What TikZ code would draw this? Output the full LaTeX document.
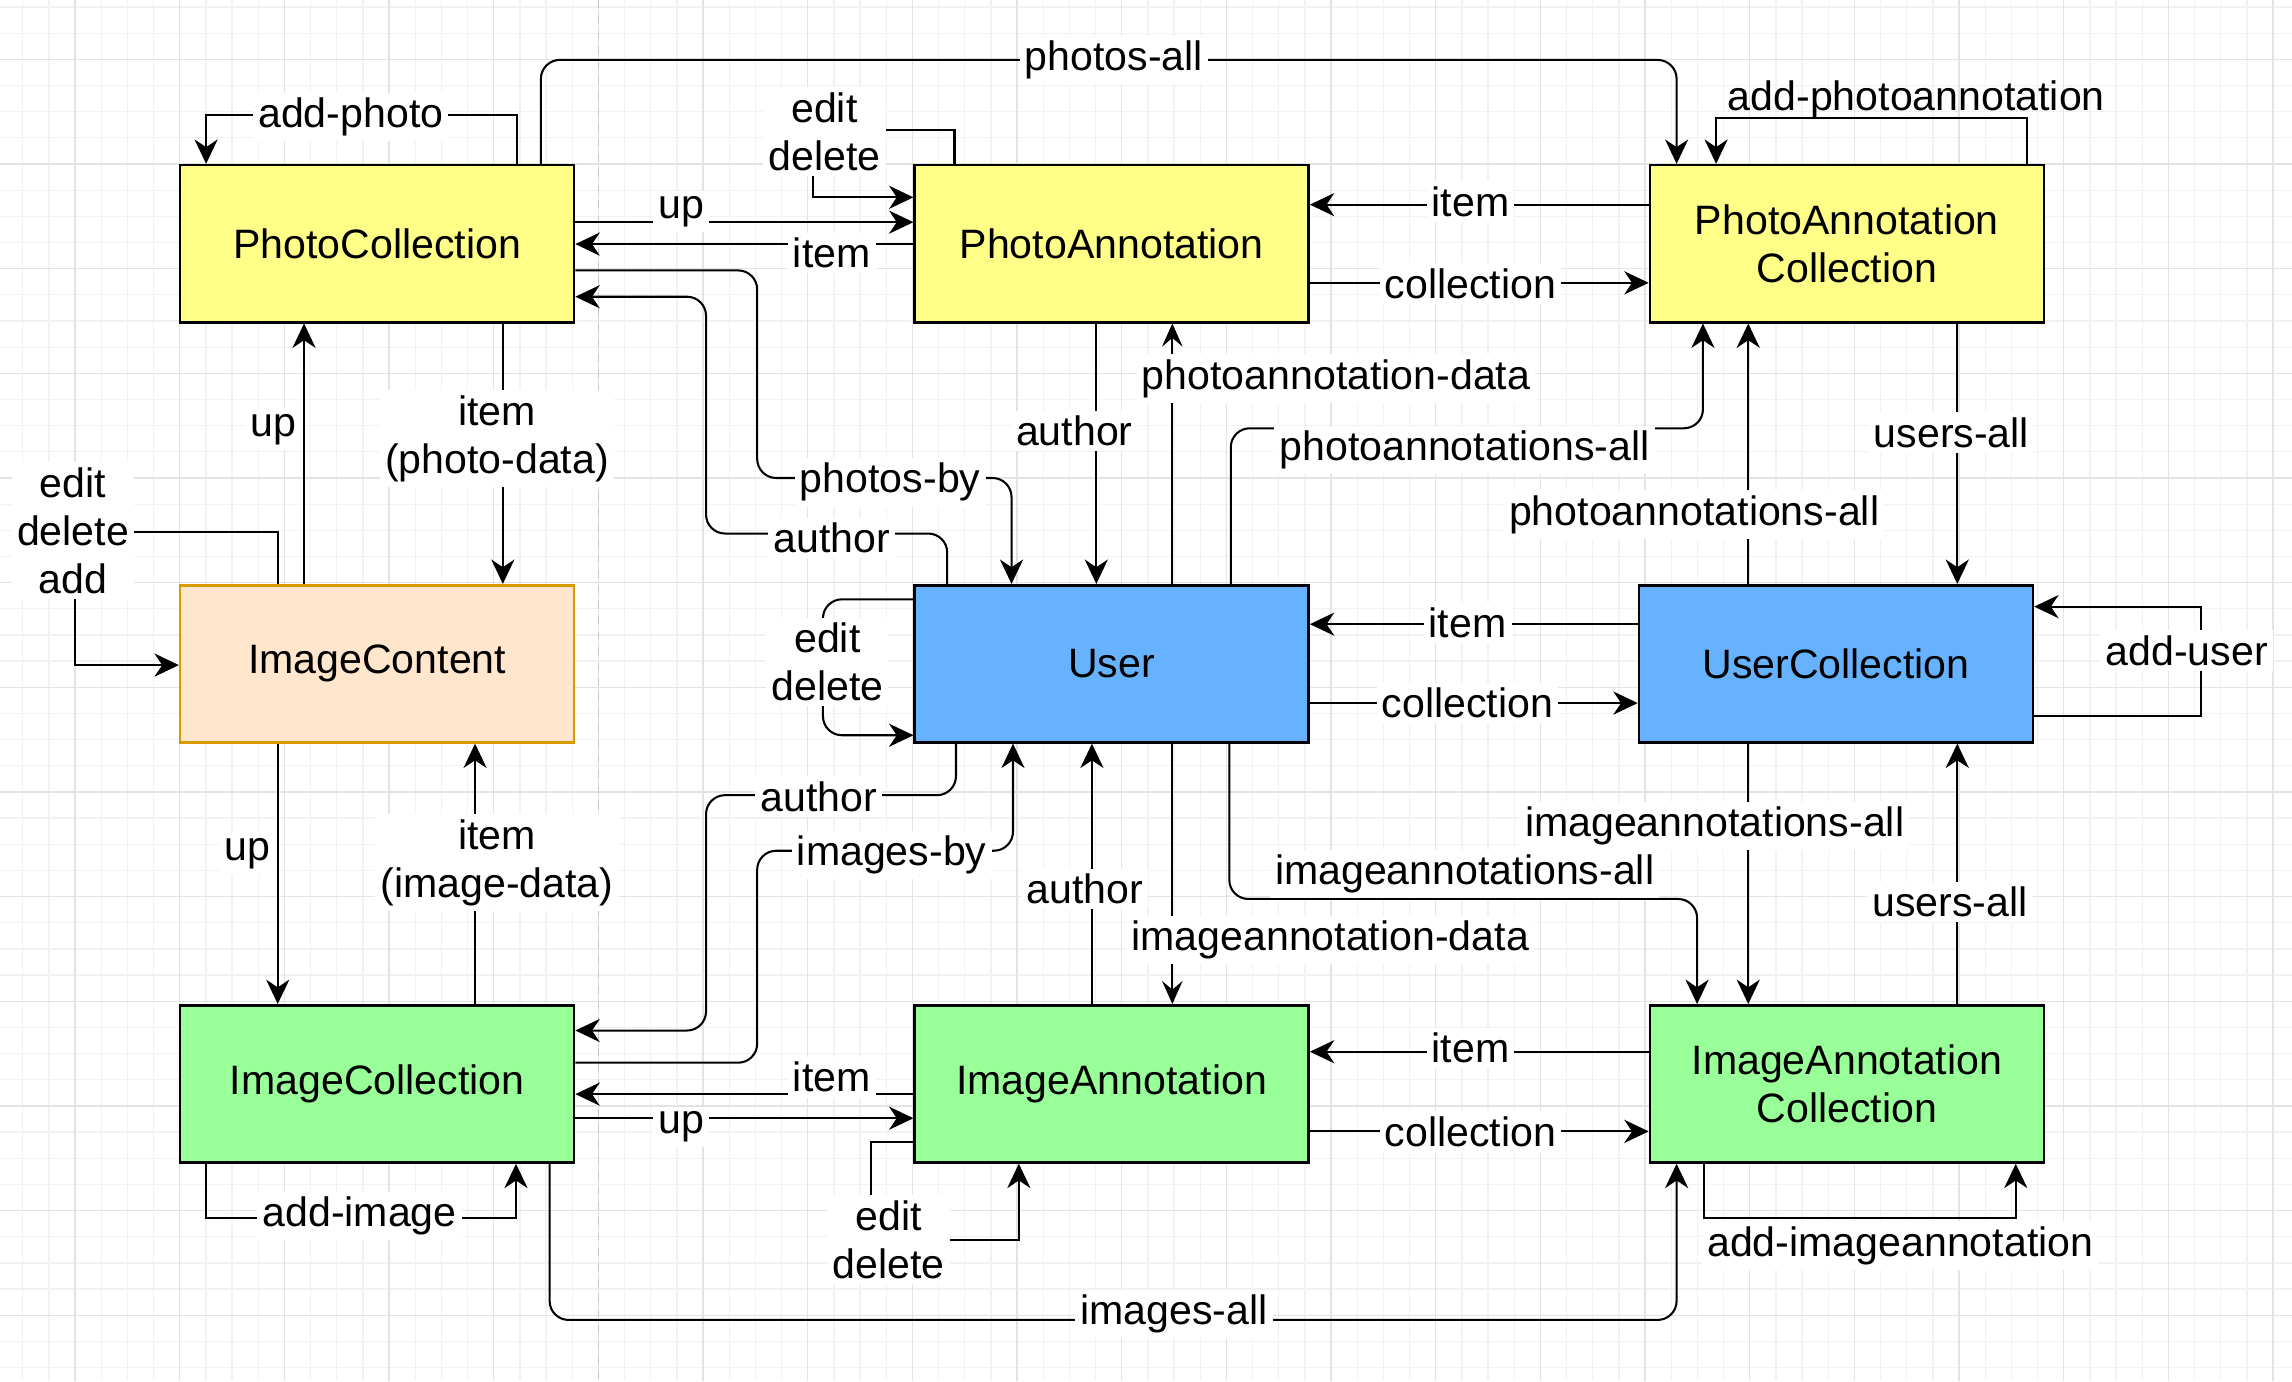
\documentclass[tikz,border=0pt]{standalone}
\usepackage{fontspec}
\setmainfont{Liberation Sans}
\usetikzlibrary{arrows.meta}
\definecolor{yellowbox}{HTML}{FFFF88}
\definecolor{bluebox}{HTML}{66B2FF}
\definecolor{greenbox}{HTML}{99FF99}
\definecolor{orangebox}{HTML}{FFE6CC}
\definecolor{orangeline}{HTML}{D79B00}
\tikzset{box/.style={draw, line width=1pt, minimum width=5.39cm, minimum height=2.15cm, align=center, inner sep=0pt},
%white label sitting on a connector
lbl/.style={fill=white, inner sep=2pt, align=center},
arr/.style={line width=0.8pt, -{Stealth[length=9.5pt,width=9pt,inset=3pt]}},
arrsmall/.style={line width=0.8pt, -{Stealth[length=9pt,width=8pt,inset=3.4pt]}},
rnd/.style={rounded corners=0.26cm},
gridminor/.style={draw=gray!10, line width=0.5pt},
gridmajor/.style={draw=gray!22, line width=0.5pt}}

\begin{document}
\begin{tikzpicture}[x=0.02cm, y=-0.02cm, font=\fontsize{16}{18.7}\selectfont]

\fill[white] (0,0) rectangle (1568,945);
\useasboundingbox (0,0) rectangle (1568,945);
% grid
\foreach \i in {0,...,87} \draw[gridminor] (15.6+17.9*\i,0) -- (15.6+17.9*\i,945);
\foreach \i in {0,...,52} \draw[gridminor] (0,4.8+17.9*\i) -- (1568,4.8+17.9*\i);
\foreach \i in {0,...,21} \draw[gridmajor] (51.4+71.6*\i,0) -- (51.4+71.6*\i,945);
\foreach \i in {0,...,13} \draw[gridmajor] (0,40.6+71.6*\i) -- (1568,40.6+71.6*\i);
\draw[dashed, gray!45, line width=0.5pt] (409.5,0) -- (409.5,945); %page break

% boxes
\node[box, fill=yellowbox] (photoColl) at (258,166.7) {PhotoCollection};
\node[box, fill=yellowbox] (photoAnn) at (760.5,166.7) {PhotoAnnotation};
\node[box, fill=yellowbox] (photoAnnColl) at (1263.5,166.7) {PhotoAnnotation\\Collection};
\node[box, fill=orangebox, draw=orangeline] (imgContent) at (258,454.1) {ImageContent};
\node[box, fill=bluebox] (user) at (760.5,454.1) {User};
\node[box, fill=bluebox] (userColl) at (1256,454.1) {UserCollection};
\node[box, fill=greenbox] (imgColl) at (258,741.5) {ImageCollection};
\node[box, fill=greenbox] (imgAnn) at (760.5,741.5) {ImageAnnotation};
\node[box, fill=greenbox] (imgAnnColl) at (1263.5,741.5) {ImageAnnotation\\Collection};

% Draw top row
\draw[arr] (354,0 |- photoColl.north) -- (354,79) -- (141,79) -- (141,0 |- photoColl.north);
\draw[arr,rnd] (370,0 |- photoColl.north) -- (370,41) -- (1147,41) -- (1147,0 |- photoAnnColl.north);
\draw[arr] (photoColl.east |- 0,152) -- (photoAnn.west |- 0,152);
\draw[arr] (photoAnn.west |- 0,167) -- (photoColl.east |- 0,167);
\draw[arr] (653,0 |- photoAnn.north) -- (653,89) -- (556,89) -- (556,135) -- (photoAnn.west |- 0,135);
\draw[arr] (photoAnnColl.west |- 0,140) -- (photoAnn.east |- 0,140);
\draw[arr] (photoAnn.east |- 0,193.5) -- (photoAnnColl.west |- 0,193.5);
\draw[arr] (1387,0 |- photoAnnColl.north) -- (1387,81) -- (1174,81) -- (1174,0 |- photoAnnColl.north);

% Draw top to middle
\draw[arrsmall] (802,0 |- user.north) -- (802,0 |- photoAnn.south);
\draw[arr] (750,0 |- photoAnn.south) -- (750,0 |- user.north);
\draw[arr,rnd] (842,0 |- user.north) -- (842,293) -- (1165,293) -- (1165,0 |- photoAnnColl.south);
\draw[arr] (1196,0 |- userColl.north) -- (1196,0 |- photoAnnColl.south);
\draw[arr] (1339,0 |- photoAnnColl.south) -- (1339,0 |- userColl.north);
\draw[arr,rnd] (photoColl.east |- 0,185) -- (518,185) -- (518,327) -- (692,327) -- (692,0 |- user.north);
\draw[arr,rnd] (648,0 |- user.north) -- (648,365) -- (483,365) -- (483,203) -- (photoColl.east |- 0,203);
\draw[arr] (208,0 |- imgContent.north) -- (208,0 |- photoColl.south);
\draw[arr] (344,0 |- photoColl.south) -- (344,0 |- imgContent.north);
\draw[arr] (190,0 |- imgContent.north) -- (190,364) -- (51,364) -- (51,455) -- (imgContent.west |- 0,455);

% Draw middle row
\draw[arr] (userColl.west |- 0,427) -- (user.east |- 0,427);
\draw[arr] (user.east |- 0,481) -- (userColl.west |- 0,481);
\draw[arr] (userColl.east |- 0,490) -- (1506,490) -- (1506,415) -- (userColl.east |- 0,415);
\draw[arr,rnd] (user.west |- 0,410) -- (563,410) -- (563,503) -- (user.west |- 0,503);

% Draw middle to bottom
\draw[arr] (190,0 |- imgContent.south) -- (190,0 |- imgColl.north);
\draw[arr] (325,0 |- imgColl.north) -- (325,0 |- imgContent.south);
\draw[arr,rnd] (654,0 |- user.south) -- (654,544) -- (483,544) -- (483,705) -- (imgColl.east |- 0,705);
\draw[arr,rnd] (imgColl.east |- 0,727) -- (518,727) -- (518,582) -- (693,582) -- (693,0 |- user.south);
\draw[arr] (747,0 |- imgAnn.north) -- (747,0 |- user.south);
\draw[arrsmall] (802,0 |- user.south) -- (802,0 |- imgAnn.north);
\draw[arr,rnd] (841,0 |- user.south) -- (841,615) -- (1161,615) -- (1161,0 |- imgAnnColl.north);
\draw[arr] (1196,0 |- userColl.south) -- (1196,0 |- imgAnnColl.north);
\draw[arr] (1339,0 |- imgAnnColl.north) -- (1339,0 |- userColl.south);

% Draw bottom row
\draw[arr] (imgAnn.west |- 0,748.5) -- (imgColl.east |- 0,748.5);
\draw[arr] (imgColl.east |- 0,765) -- (imgAnn.west |- 0,765);
\draw[arr] (141,0 |- imgColl.south) -- (141,833) -- (353,833) -- (353,0 |- imgColl.south);
\draw[arr,rnd] (376,0 |- imgColl.south) -- (376,903) -- (1147,903) -- (1147,0 |- imgAnnColl.south);
\draw[arr] (imgAnn.west |- 0,781) -- (596,781) -- (596,848) -- (697,848) -- (697,0 |- imgAnn.south);
\draw[arr] (imgAnnColl.west |- 0,719.5) -- (imgAnn.east |- 0,719.5);
\draw[arr] (imgAnn.east |- 0,774) -- (imgAnnColl.west |- 0,774);
\draw[arr] (1166,0 |- imgAnnColl.south) -- (1166,833) -- (1379,833) -- (1379,0 |- imgAnnColl.south);

% labels
\node[lbl] (lAddPhoto) at (240,80) {add-photo};
\node[lbl] (lPhotosAll) at (762,41) {photos-all};
\node[lbl] (lEditPA) at (564,90) {edit\\delete};
\node[lbl] (lUpTop) at (466,145) {up};
\node[lbl] (lItemTop) at (569,173) {item};
\node[lbl] (lItemPA) at (1006,138) {item};
\node[lbl] (lCollPA) at (1006,194) {collection};
\node[lbl, fill=none] (lAddPA) at (1311,68) {add-photoannotation};
\node[lbl] (lAuthorPA) at (735,295) {author};
\node[lbl] (lPAdata) at (914,259) {photoannotation-data};
\node[lbl] (lPAallUser) at (1002,308) {photoannotations-all};
\node[lbl] (lPAallUC) at (1159,352) {photoannotations-all};
\node[lbl] (lUsersTop) at (1335,296) {users-all};
\node[lbl] (lPhotosBy) at (609,330) {photos-by};
\node[lbl] (lAuthorPC) at (569,368) {author};
\node[lbl] (lUpPC) at (187,294) {up};
\node[lbl] (lItemPhoto) at (340,300) {item\\(photo-data)};
\node[lbl] (lEditImC) at (50,363) {edit\\delete\\add};
\node[lbl] (lItemUser) at (1004,426) {item};
\node[lbl] (lCollUser) at (1004,481) {collection};
\node[lbl] (lAddUser) at (1496,445) {add-user};
\node[lbl] (lEditUser) at (566,453) {edit\\delete};
\node[lbl] (lAuthorImg) at (560,545) {author};
\node[lbl] (lImagesBy) at (610,585) {images-by};
\node[lbl] (lAuthorIA) at (742,608) {author};
\node[lbl] (lIAdata) at (910,643) {imageannotation-data};
\node[lbl] (lIAallUser) at (1002,598) {imageannotations-all};
\node[lbl] (lIAallUC) at (1173,565) {imageannotations-all};
\node[lbl] (lUsersBot) at (1334,617) {users-all};
\node[lbl] (lUpImC) at (169,584) {up};
\node[lbl] (lItemImage) at (340,590) {item\\(image-data)};
\node[lbl] (lItemBot) at (569,737) {item};
\node[lbl] (lUpBot) at (466,771) {up};
\node[lbl] (lAddImage) at (246,832) {add-image};
\node[lbl] (lEditIA) at (608,848) {edit\\delete};
\node[lbl] (lImagesAll) at (803,899) {images-all};
\node[lbl] (lItemIA) at (1006,717) {item};
\node[lbl] (lCollIA) at (1006,774) {collection};
\node[lbl] (lAddIA) at (1300,852) {add-imageannotation};

\end{tikzpicture}
\end{document}
